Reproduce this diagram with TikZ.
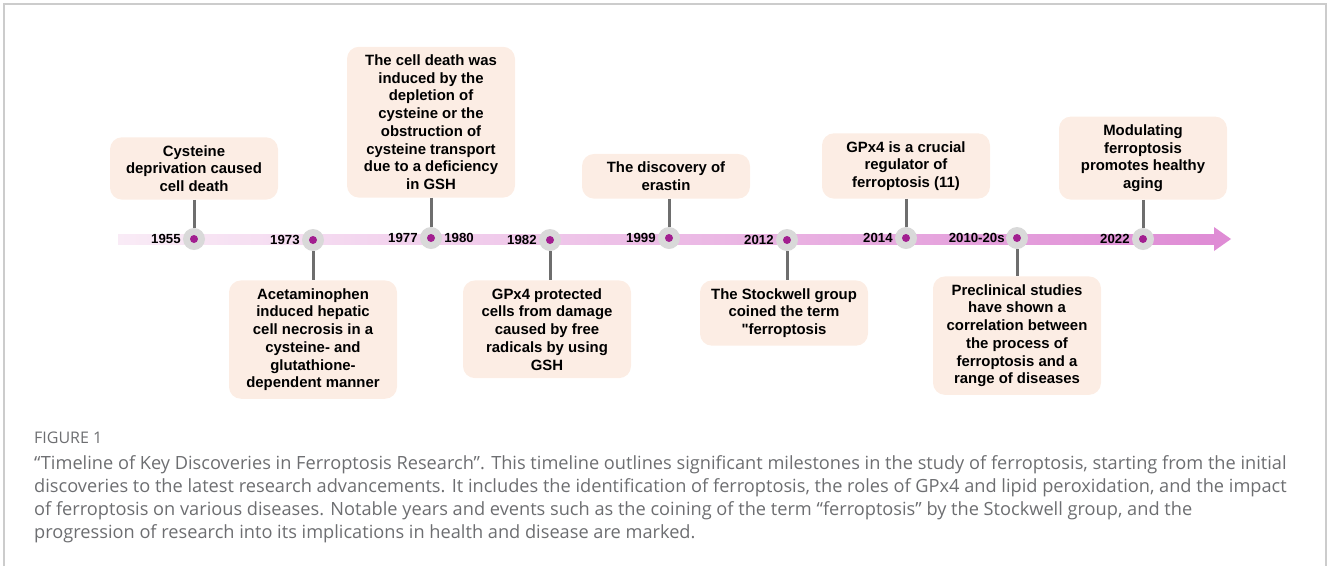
\documentclass[tikz,border=0pt]{standalone}
\usepackage{fontspec}
\setmainfont{Liberation Sans}
\newfontfamily\capfont{Open Sans}
\usepackage{xcolor}
\usetikzlibrary{positioning}

\definecolor{boxfill}{HTML}{FCEDE4}
\definecolor{ringgray}{HTML}{D9D9D9}
\definecolor{dotpurple}{HTML}{A21F90}
\definecolor{stemgray}{HTML}{6E6E6E}
\definecolor{barleft}{HTML}{F9EBF6}
\definecolor{barright}{HTML}{DF8CD5}
\definecolor{captext}{HTML}{6D6E71}
\definecolor{framegray}{HTML}{CCCCCC}

\begin{document}
\begin{tikzpicture}[x=1pt,y=-1pt,
  event/.style={fill=boxfill, rounded corners=12pt, minimum width=168pt, align=center,
    inner ysep=8pt, font=\fontsize{14.9}{17.7}\selectfont\bfseries},
  ring/.style={circle, fill=ringgray, minimum size=22pt, inner sep=0pt,
    path picture={\fill[dotpurple] (path picture bounding box.center) circle (4pt);}},
  year/.style={font=\fontsize{13.2}{15}\selectfont\bfseries, inner sep=1pt},
  stem/.style={draw=stemgray, line width=3pt}]

\useasboundingbox (0,0) rectangle (1328,566);
\draw[framegray, line width=1.5pt] (4,566) -- (4,4) -- (1326,4) -- (1326,566);

% timeline bar
\coordinate (barstart) at (118,239);
\coordinate (barend) at (1215,239);
\coordinate (bartip) at (1231,239);
\shade[left color=barleft, right color=barright] (118,234) rectangle (1216,244);
\fill[barright] (1214,227) -- (bartip) -- (1214,251) -- cycle;

\coordinate (t1955) at (194,239);
\coordinate (t1973) at (313,240);
\coordinate (t1977) at (431,238);
\coordinate (t1982) at (550,240);
\coordinate (t1999) at (669,238);
\coordinate (t2012) at (787,240);
\coordinate (t2014) at (906,238);
\coordinate (t2010) at (1017,238);
\coordinate (t2022) at (1143,239);

\node[ring] (c1955) at (t1955) {};
\node[ring] (c1973) at (t1973) {};
\node[ring] (c1977) at (t1977) {};
\node[ring] (c1982) at (t1982) {};
\node[ring] (c1999) at (t1999) {};
\node[ring] (c2012) at (t2012) {};
\node[ring] (c2014) at (t2014) {};
\node[ring] (c2010) at (t2010) {};
\node[ring] (c2022) at (t2022) {};

\node[year, left=1pt of c1955] (y1955) {1955};
\node[year, left=1pt of c1973] (y1973) {1973};
\node[year, left=1pt of c1977] (y1977) {1977};
\node[year, right=1pt of c1977] (y1980) {1980};
\node[year, left=1pt of c1982] (y1982) {1982};
\node[year, left=1pt of c1999] (y1999) {1999};
\node[year, left=1pt of c2012] (y2012) {2012};
\node[year, left=1pt of c2014] (y2014) {2014};
\node[year, left=0pt of c2010] (y2010) {2010-20s};
\node[year, left=1pt of c2022] (y2022) {2022};

% events above
\node[event, above=28pt of c1955] (b1955) {Cysteine\\deprivation caused\\cell death};
\node[event, above=29pt of c1977] (b1977) {The cell death was\\induced by the\\depletion of\\cysteine or the\\obstruction of\\cysteine transport\\due to a deficiency\\in GSH};
\node[event, above=28pt of c1999, xshift=-3pt] (b1999) {The discovery of\\erastin};
\node[event, above=28pt of c2014] (b2014) {GPx4 is a crucial\\regulator of\\ferroptosis (11)};
\node[event, above=28pt of c2022] (b2022) {Modulating\\ferroptosis\\promotes healthy\\aging};

% events below
\node[event, below=29pt of c1973] (b1973) {Acetaminophen\\induced hepatic\\cell necrosis in a\\cysteine- and\\glutathione-\\dependent manner};
\node[event, below=29pt of c1982, xshift=-3pt] (b1982) {GPx4 protected\\cells from damage\\caused by free\\radicals by using\\GSH};
\node[event, below=29pt of c2012, xshift=-3pt] (b2012) {The Stockwell group\\coined the term\\{\addfontfeature{Ligatures=TeXOff}"}ferroptosis};
\node[event, below=27pt of c2010] (b2010) {Preclinical studies\\have shown a\\correlation between\\the process of\\ferroptosis and a\\range of diseases};

\draw[stem] (b1955.south -| c1955) -- (c1955);
\draw[stem] (b1977.south -| c1977) -- (c1977);
\draw[stem] (b1999.south -| c1999) -- (c1999);
\draw[stem] (b2014.south -| c2014) -- (c2014);
\draw[stem] (b2022.south -| c2022) -- (c2022);
\draw[stem] (c1973) -- (b1973.north -| c1973);
\draw[stem] (c1982) -- (b1982.north -| c1982);
\draw[stem] (c2012) -- (b2012.north -| c2012);
\draw[stem] (c2010) -- (b2010.north -| c2010);

% caption
\node[anchor=base west, inner sep=0pt, text=captext, font=\capfont\fontsize{16}{18}\selectfont] (figlabel) at (34,443) {FIGURE 1};
\node[anchor=north west, inner sep=0pt, align=left, text=captext, font=\capfont\fontsize{18.2}{23.2}\selectfont] (caption) at (34,455)
  {“Timeline of Key Discoveries in Ferroptosis Research”. This timeline outlines significant milestones in the study of ferroptosis, starting from the initial\\
   discoveries to the latest research advancements. It includes the identification of ferroptosis, the roles of GPx4 and lipid peroxidation, and the impact\\
   of ferroptosis on various diseases. Notable years and events such as the coining of the term “ferroptosis” by the Stockwell group, and the\\
   progression of research into its implications in health and disease are marked.};

\end{tikzpicture}
\end{document}
